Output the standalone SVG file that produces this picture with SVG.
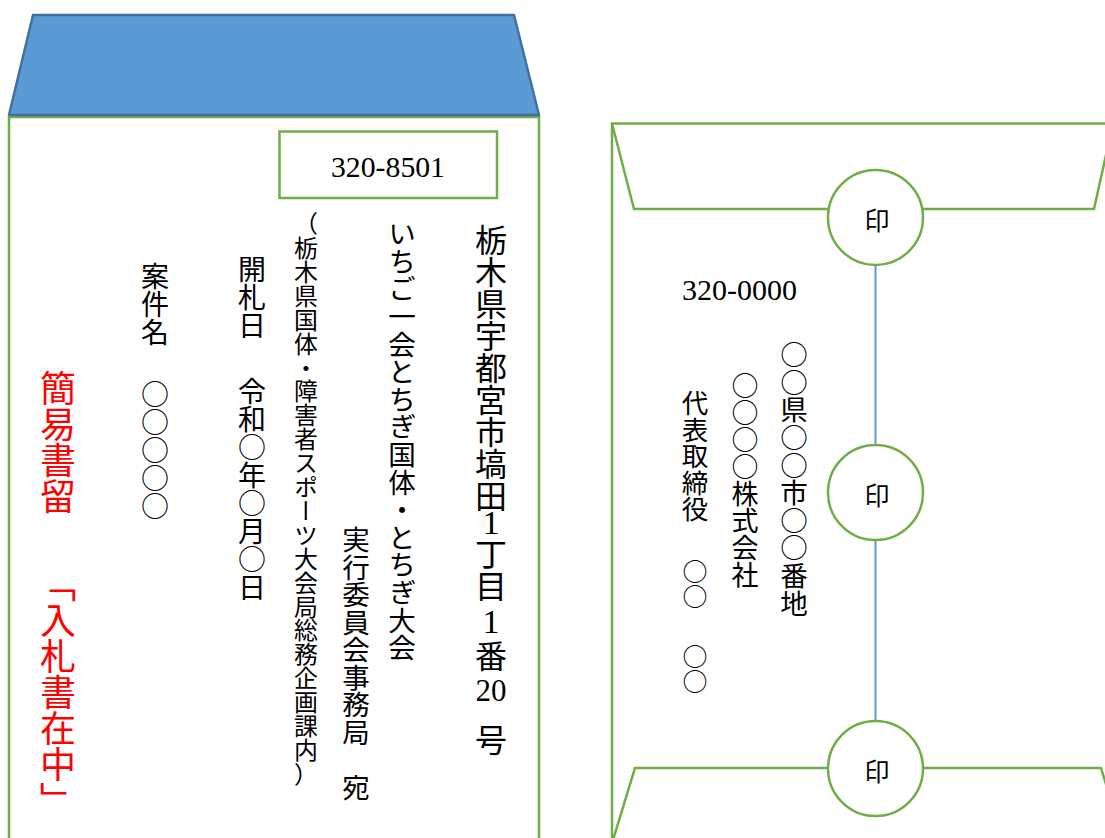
<svg xmlns="http://www.w3.org/2000/svg" width="1105" height="838" viewBox="0 0 1105 838">
<style>
.g{fill:none;stroke:#70AD47;stroke-width:2.5}
.v{writing-mode:vertical-rl;font-family:"Noto Sans CJK JP",sans-serif;fill:#000}
.h{font-family:"Noto Sans CJK JP",sans-serif;fill:#000}
.num{font-family:"Liberation Serif",serif;fill:#000}
.seal{fill:#fff;stroke:#70AD47;stroke-width:2.5}
.sealt{font-family:"Noto Sans CJK JP",sans-serif;font-size:25px;text-anchor:middle;dominant-baseline:central}
.red{fill:#FF0000}
</style>
<rect width="1105" height="838" fill="#fff"/>
<g id="left-envelope">
<rect class="g" x="9" y="117" width="530" height="760"/>
<polygon points="33,15 514,15 539,115 9,115" fill="#5B9BD5" stroke="#41719C" stroke-width="2.5" stroke-linejoin="round"/>
</g>
<g id="postal-box">
<rect class="g" x="279.5" y="131.5" width="217.5" height="66.5"/>
<text class="num" x="388" y="177" font-size="30" text-anchor="middle" textLength="114" lengthAdjust="spacingAndGlyphs">320-8501</text>
</g>
<g id="address">
<text class="v" x="491" y="224" font-size="32">栃木県宇都宮市塙田</text>
<text class="num" x="491" y="534" font-size="34" text-anchor="middle">1</text>
<text class="v" x="491" y="538" font-size="32">丁目</text>
<text class="num" x="491" y="633" font-size="34" text-anchor="middle">1</text>
<text class="v" x="491" y="640" font-size="32">番</text>
<text class="num" x="491" y="701" font-size="31" text-anchor="middle">20</text>
<text class="v" x="491" y="724" font-size="32">号</text>
</g>
<g id="addressee">
<text class="v" x="402" y="220" font-size="27.6">いちご一会とちぎ国体・とちぎ大会</text>
<text class="v" x="356" y="526" font-size="27.5">実行委員会事務局　宛</text>
<text class="h" x="306" y="232" font-size="24" text-anchor="middle">（</text>
<text class="v" x="306" y="236" font-size="23.9">栃木県国体・障害者スポーツ大会局総務企画課内</text>
<text class="h" x="306" y="783" font-size="24" text-anchor="middle">）</text>
</g>
<g id="bid-date">
<text class="v" x="252" y="255" font-size="28">開札日</text>
<text class="v" x="252" y="377" font-size="28">令和○年○月○日</text>
</g>
<g id="case-name">
<text class="v" x="155" y="262" font-size="28">案件名</text>
<text class="v" x="155" y="380" font-size="28">○○○○○</text>
</g>
<g id="registered-mail">
<text class="v red" x="58" y="370" font-size="36">簡易書留</text>
<text class="v red" x="58" y="566" font-size="36">「入札書在中」</text>
</g>
<g id="right-envelope">
<polyline class="g" points="612,838 612,123.5 1110,123.5"/>
<polyline class="g" points="612,123.5 634,209 1094,209 1113,123.5"/>
<polyline class="g" points="613,840 635,768 1101,768 1123,840"/>
</g>
<g id="sender">
<text class="num" x="682" y="300" font-size="29" textLength="115" lengthAdjust="spacingAndGlyphs">320-0000</text>
<text class="v" x="794" y="341" font-size="27.6">○○県○○市○○番地</text>
<text class="v" x="745" y="372" font-size="27">○○○○株式会社</text>
<text class="v" x="695" y="390" font-size="26.5">代表取締役</text>
<text class="v" x="695" y="559" font-size="25">○○</text>
<text class="v" x="695" y="644" font-size="25">○○</text>
</g>
<g id="connectors">
<line x1="875.5" y1="265" x2="875.5" y2="445" stroke="#5B9BD5" stroke-width="2"/>
<line x1="875.5" y1="540" x2="875.5" y2="721" stroke="#5B9BD5" stroke-width="2"/>
</g>
<g id="seal-1">
<circle class="seal" cx="875.5" cy="217.5" r="47.5"/>
<text class="sealt" x="877" y="219">印</text>
</g>
<g id="seal-2">
<circle class="seal" cx="875.5" cy="492.5" r="47.5"/>
<text class="sealt" x="877" y="494">印</text>
</g>
<g id="seal-3">
<circle class="seal" cx="875.5" cy="768.5" r="47.5"/>
<text class="sealt" x="877" y="770">印</text>
</g>
</svg>
